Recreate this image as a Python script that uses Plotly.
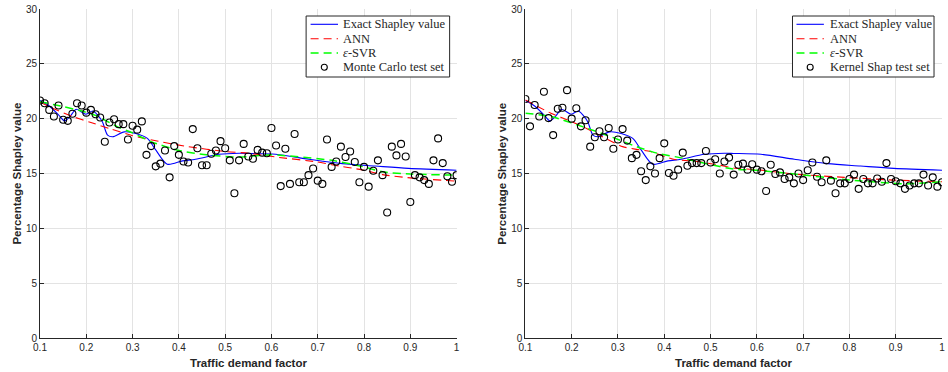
import plotly.graph_objects as go
from plotly.subplots import make_subplots

# ---------------- data ----------------
x_test = [round(0.10 + 0.01 * i, 2) for i in range(91)]

mc_test = [21.65, 21.4, 20.8, 20.2, 21.2, 19.9, 19.8, 20.45, 21.4, 21.2,
           20.55, 20.8, 20.4, 20.1, 17.9, 19.65, 19.95, 19.5, 19.5, 18.1,
           19.35, 19.0, 19.75, 16.7, 17.5, 15.65, 15.9, 17.1, 14.65, 17.5,
           16.7, 16.1, 16.0, 19.05, 17.3, 15.75, 15.75, 16.8, 17.1, 17.95,
           17.3, 16.2, 13.2, 16.2, 17.7, 16.55, 16.35, 17.15, 16.9, 16.85,
           19.15, 17.55, 13.85, 17.25, 14.05, 18.6, 14.2, 14.2, 14.85, 15.45,
           14.35, 14.05, 18.1, 15.6, 16.1, 17.45, 16.5, 17.0, 16.05, 14.2,
           15.6, 13.8, 15.25, 16.2, 14.85, 11.45, 17.45, 16.65, 17.7, 16.55,
           12.4, 14.85, 14.65, 14.4, 14.05, 16.2, 18.2, 15.95, 14.75, 14.25,
           14.85]

ks_test = [21.8, 19.3, 21.25, 20.2, 22.45, 20.05, 18.5, 20.9, 21.0, 22.6,
           20.0, 20.95, 19.3, 19.85, 17.45, 18.3, 18.85, 18.3, 19.15, 17.25,
           18.1, 19.05, 18.0, 16.4, 16.7, 15.2, 14.4, 15.65, 15.0, 16.4,
           17.75, 15.05, 14.8, 15.35, 16.9, 15.7, 15.95, 15.95, 15.95, 17.05,
           16.0, 16.3, 15.0, 16.1, 16.45, 14.9, 15.8, 15.9, 15.35, 15.85,
           15.35, 15.2, 13.4, 15.8, 14.95, 15.1, 14.5, 14.65, 14.1, 15.0,
           14.4, 15.3, 16.0, 14.7, 14.2, 16.2, 14.35, 13.2, 14.1, 14.1,
           14.5, 14.9, 13.6, 14.5, 14.1, 14.1, 14.55, 14.25, 15.95, 14.5,
           14.3, 14.1, 13.6, 13.9, 14.1, 14.1, 14.9, 13.9, 14.65, 13.8,
           14.2]

x_exact = [0.10, 0.12, 0.14, 0.153, 0.165, 0.178, 0.199, 0.214, 0.225, 0.235,
           0.246, 0.257, 0.282, 0.307, 0.332, 0.35, 0.375, 0.408, 0.436, 0.487,
           0.53, 0.55, 0.609, 0.681, 0.753, 0.824, 0.896, 1.0]
exact = [21.65, 21.15, 20.35, 19.8, 20.2, 20.85, 20.4, 20.7, 20.3, 19.7,
         18.5, 18.35, 18.8, 18.65, 18.2, 17.15, 15.85, 16.15, 16.3, 16.75,
         16.85, 16.83, 16.75, 16.3, 15.9, 15.68, 15.47, 15.3]

x_ann_l = [0.10, 0.13, 0.17, 0.21, 0.25, 0.30, 0.36, 0.42, 0.50, 0.55,
           0.61, 0.70, 0.73, 0.80, 0.84, 0.90, 1.00]
ann_l = [21.5, 20.9, 20.2, 19.65, 19.1, 18.45, 17.9, 17.45, 17.0, 16.85,
         16.5, 16.05, 15.8, 15.3, 14.9, 14.6, 14.3]

x_svr_l = [0.10, 0.15, 0.19, 0.22, 0.27, 0.30, 0.34, 0.40, 0.46, 0.53,
           0.60, 0.73, 0.80, 0.84, 0.90, 1.00]
svr_l = [21.55, 21.1, 20.7, 20.3, 19.2, 18.7, 17.9, 17.1, 16.7, 16.5,
         16.7, 16.2, 15.6, 15.15, 14.95, 14.85]

x_ann_r = [0.10, 0.155, 0.19, 0.225, 0.26, 0.31, 0.34, 0.37, 0.42, 0.47,
           0.52, 0.55, 0.60, 0.681, 0.789, 0.896, 1.00]
ann_r = [21.7, 20.5, 19.9, 19.25, 18.5, 17.45, 17.2, 17.0, 16.3, 16.1,
         15.75, 15.5, 15.35, 14.95, 14.65, 14.4, 14.25]

x_svr_r = [0.10, 0.155, 0.225, 0.285, 0.34, 0.385, 0.44, 0.49, 0.55, 0.60,
           0.681, 0.789, 0.896, 0.92, 1.00]
svr_r = [20.5, 20.2, 19.25, 18.35, 17.45, 16.85, 16.4, 15.9, 15.4, 15.3,
         14.95, 14.45, 14.1, 14.05, 14.25]

x_ticks = [0.1, 0.2, 0.3, 0.4, 0.5, 0.6, 0.7, 0.8, 0.9, 1.0]
x_ticklabels = ["0.1", "0.2", "0.3", "0.4", "0.5", "0.6", "0.7", "0.8", "0.9", "1"]
y_ticks = [0, 5, 10, 15, 20, 25, 30]

names = ["Exact Shapley value", "ANN", "<i>ε</i>-SVR"]
test_names = ["Monte Carlo test set", "Kernel Shap test set"]
x_title = "Traffic demand factor"
y_title = "Percentage Shapley value"

BLUE, RED, GREEN = "#0000FF", "#FF0000", "#00FF00"
DASH = "8px,5px"

# ---------------- figure ----------------
W, H = 948, 372
ML, MR, MT, MB = 40, 3, 9, 34
PW, PH = W - ML - MR, H - MT - MB


def px(xp):
    return (xp - ML) / PW


def py(yp):
    return (H - MB - yp) / PH


fig = make_subplots(rows=1, cols=2, horizontal_spacing=(527 - 458) / PW)

panels = [
    (1, x_ann_l, ann_l, x_svr_l, svr_l, mc_test, test_names[0]),
    (2, x_ann_r, ann_r, x_svr_r, svr_r, ks_test, test_names[1]),
]
for col, xa, ya, xs, ys, yt, tname in panels:
    fig.add_trace(go.Scatter(x=x_exact, y=exact, mode="lines", name=names[0],
                             line=dict(color=BLUE, width=1.1, shape="spline", smoothing=0.8),
                             showlegend=False), row=1, col=col)
    fig.add_trace(go.Scatter(x=xa, y=ya, mode="lines", name=names[1],
                             line=dict(color=RED, width=1.1, dash=DASH, shape="spline", smoothing=0.6),
                             showlegend=False), row=1, col=col)
    fig.add_trace(go.Scatter(x=xs, y=ys, mode="lines", name=names[2],
                             line=dict(color=GREEN, width=1.5, dash=DASH, shape="spline", smoothing=0.6),
                             showlegend=False), row=1, col=col)
    fig.add_trace(go.Scatter(x=x_test, y=yt, mode="markers", name=tname,
                             marker=dict(symbol="circle-open", size=7, color="black",
                                         line=dict(width=1.1, color="black")),
                             showlegend=False), row=1, col=col)

axis_common = dict(showgrid=True, gridcolor="#E3E3E3", gridwidth=1,
                   showline=True, linecolor="#262626", linewidth=1,
                   ticks="inside", ticklen=4, tickcolor="#262626",
                   tickfont=dict(family="Liberation Sans, Arial, sans-serif", size=10, color="#262626"),
                   zeroline=False, mirror=False)
title_font = dict(family="Liberation Sans, Arial, sans-serif", size=11.5, color="#262626")

for i in (1, 2):
    fig.update_xaxes(range=[0.1, 1.0], tickvals=x_ticks, ticktext=x_ticklabels,
                     row=1, col=i, **axis_common)
    fig.update_yaxes(range=[0, 30], tickvals=y_ticks, row=1, col=i, **axis_common)

annotations = []
shapes = []

# axis titles
for (ytx, xtc) in ((16.5, 249), (503.3, 736)):
    annotations.append(dict(text="<b>%s</b>" % y_title, textangle=-90, font=title_font,
                            xref="paper", yref="paper", x=px(ytx), y=py(174),
                            xanchor="center", yanchor="middle", showarrow=False))
    annotations.append(dict(text="<b>%s</b>" % x_title, font=title_font,
                            xref="paper", yref="paper", x=px(xtc), y=py(362.5),
                            xanchor="center", yanchor="middle", showarrow=False))

# manual legends (box, samples, labels)
legend_font = dict(family="Liberation Serif, Times New Roman, serif", size=12.5, color="#262626")
row_y = [24.3, 38.7, 53.0, 67.3]
for (bx0, bx1, lx0, lx1, tx, tname) in ((307, 451, 311.5, 339, 342.5, test_names[0]),
                                        (795, 937, 799, 826.5, 830.5, test_names[1])):
    shapes.append(dict(type="rect", xref="paper", yref="paper",
                       x0=px(bx0), x1=px(bx1), y0=py(77), y1=py(16),
                       line=dict(color="#262626", width=1), fillcolor="white", layer="above"))
    styles = [dict(color=BLUE, width=1.1), dict(color=RED, width=1.1, dash=DASH),
              dict(color=GREEN, width=1.6, dash=DASH)]
    for k in range(3):
        shapes.append(dict(type="line", xref="paper", yref="paper",
                           x0=px(lx0), x1=px(lx1), y0=py(row_y[k]), y1=py(row_y[k]),
                           line=styles[k], layer="above"))
    cx = (lx0 + lx1) / 2
    shapes.append(dict(type="circle", xref="paper", yref="paper",
                       x0=px(cx - 3), x1=px(cx + 3), y0=py(row_y[3] + 3), y1=py(row_y[3] - 3),
                       line=dict(color="black", width=1.1), layer="above"))
    labels = names + [tname]
    for k in range(4):
        annotations.append(dict(text=labels[k], font=legend_font,
                                xref="paper", yref="paper", x=px(tx), y=py(row_y[k]),
                                xanchor="left", yanchor="middle", showarrow=False))

fig.update_layout(
    width=W, height=H,
    margin=dict(l=ML, r=MR, t=MT, b=MB),
    plot_bgcolor="white", paper_bgcolor="white",
    showlegend=False,
    annotations=annotations,
    shapes=shapes,
)

fig.write_html("out.html")
